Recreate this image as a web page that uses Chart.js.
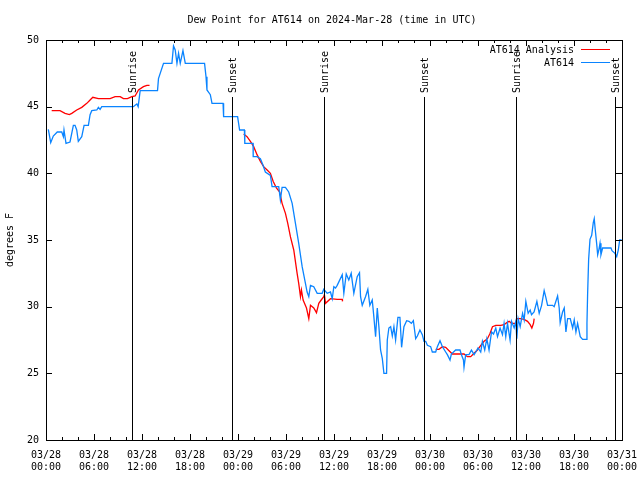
<!DOCTYPE html>
<html>
<head>
<meta charset="utf-8">
<script src="https://cdn.jsdelivr.net/npm/chart.js@4.4.1/dist/chart.umd.min.js"></script>
<style>
  html, body { margin: 0; padding: 0; background: #fff; }
  #wrap { width: 640px; height: 480px; }
</style>
</head>
<body>
<div id="wrap"><canvas id="dewpoint-chart" width="640" height="480"></canvas></div>
<script>
// Hours since 03/28 00:00 UTC; null values break the line.
const analysisHours = [0.71, 1.75, 2.38, 2.92, 3.22, 3.84, 4.47, 5.1, 5.51, 5.85, 6.55, 8.01, 8.64, 9.27, 9.68, 10.18, 10.73, 11.14, 11.56, 12.18, 12.61, 12.94,
    13.5,
    24.71, 25.13, 25.55, 25.96, 26.38, 26.8, 27.21, 27.64, 28.05, 28.39, 28.8, 29.21, 29.51, 29.93, 30.22, 30.55, 30.97, 31.39, 31.59, 31.81, 31.93, 32.14, 32.56, 32.85, 33.06, 33.47, 33.81, 34.1, 34.4, 34.72, 34.8, 34.94, 35.56, 36.4, 37.03, 37.06,
    40.0,
    48.71, 49.12, 49.55, 49.96, 50.38, 50.8, 52.25, 52.67, 53.09, 53.51, 53.93, 54.35, 54.76, 55.18, 55.51, 55.81, 56.22, 56.85, 57.26, 57.6, 57.89, 58.19, 58.73, 58.85, 59.27, 59.77, 60.19, 60.52, 60.73, 60.94, 61.02];
const analysisValues = [44.7, 44.7, 44.5, 44.4, 44.5, 44.75, 44.95, 45.25, 45.5, 45.7, 45.6, 45.6, 45.75, 45.75, 45.6, 45.6, 45.75, 45.8, 46.25, 46.5, 46.6, 46.6,
    null,
    42.95, 42.75, 42.4, 42.0, 41.4, 40.9, 40.5, 40.25, 40.0, 39.4, 38.9, 38.6, 37.75, 37.0, 36.25, 35.25, 34.25, 32.5, 31.75, 30.75, 31.25, 30.5, 29.9, 29.1, 30.1, 29.9, 29.55, 30.25, 30.5, 30.75, 30.9, 30.25, 30.6, 30.55, 30.55, 30.4,
    null,
    26.8, 26.8, 27.0, 26.95, 26.7, 26.45, 26.45, 26.25, 26.25, 26.5, 26.75, 27.1, 27.4, 27.6, 28.0, 28.5, 28.6, 28.6, 28.65, 28.8, 28.9, 28.75, 28.75, 29.1, 29.1, 29.05, 28.9, 28.65, 28.4, 28.75, 29.1];

const stationHours = [0.29, 0.59, 0.91, 1.41, 1.97, 2.17, 2.25, 2.5, 3.0, 3.42, 3.63, 3.84, 4.04, 4.47, 4.76, 5.3, 5.51, 5.72, 6.35, 6.55, 6.76, 6.97,
    10.93, 11.14, 11.36, 11.52, 11.77, 13.94, 14.06, 14.69, 15.74, 15.94, 16.15, 16.37, 16.57, 16.78, 17.12, 17.41, 19.82, 20.0, 20.12, 20.54, 20.75,
    22.13, 22.2, 23.95, 24.2, 24.8, 24.85, 25.88, 25.9, 26.38, 26.8, 27.13, 27.42, 28.05, 28.26, 29.09, 29.3, 29.51, 29.93, 30.34, 30.77, 31.18, 31.59,
    32.02, 32.43, 32.64, 32.85, 33.06, 33.47, 33.9, 34.52, 34.72, 35.15, 35.56, 35.78, 35.98, 36.19, 36.4, 37.03, 37.23, 37.53, 37.85, 38.15, 38.48,
    38.9, 39.19, 39.32, 39.53, 39.94, 40.23, 40.48, 40.78, 40.98, 41.2, 41.41, 41.61, 41.82, 42.04, 42.24, 42.57, 42.66, 42.86, 43.08, 43.29, 43.49,
    43.7, 43.99, 44.24, 44.45, 44.74, 45.08, 45.37, 45.67, 45.92, 46.21, 46.42, 46.74, 47.04, 47.25, 47.46, 47.67, 48.08, 48.29, 48.71, 48.92, 49.25,
    49.55, 49.96, 50.17, 50.5, 50.67, 51.21, 51.75, 51.93, 52.18, 52.25, 52.46, 52.88, 53.18, 53.51, 53.72, 54.0, 54.34, 54.55, 54.84, 55.1, 55.38,
    55.69, 55.94, 56.22, 56.44, 56.76, 57.06, 57.26, 57.47, 57.69, 58.01, 58.19, 58.52, 58.73, 58.85, 59.02, 59.27, 59.57, 59.77, 59.98, 60.27,
    60.52, 60.69, 61.01, 61.36, 61.65, 61.95, 62.27, 62.48, 62.7, 63.32, 63.52, 63.95, 64.15, 64.27, 64.57, 64.78, 64.99, 65.2, 65.53, 65.83,
    66.03, 66.24, 66.45, 66.78, 67.08, 67.58, 67.62, 67.7, 67.83, 68.0, 68.21, 68.41, 68.53, 68.66, 68.83, 68.96, 69.12, 69.25, 69.37, 69.58,
    70.62, 70.75, 71.12, 71.34, 71.54, 71.71, 71.96];
const stationValues = [43.3, 42.3, 42.8, 43.1, 43.1, 42.75, 43.25, 42.25, 42.35, 43.6, 43.6, 43.25, 42.4, 42.75, 43.6, 43.6, 44.4, 44.7, 44.75, 44.95, 44.8, 45.0,
    45.0, 45.1, 45.2, 45.0, 46.2, 46.2, 47.1, 48.25, 48.25, 49.55, 49.25, 48.25, 49.0, 48.25, 49.2, 48.25, 48.25, 47.25, 46.25, 45.9, 45.25,
    45.25, 44.25, 44.25, 43.25, 43.25, 42.25, 42.25, 41.25, 41.25, 41.1, 40.6, 40.1, 39.85, 39.0, 39.0, 38.0, 38.95, 38.95, 38.6, 37.75, 36.25, 34.75,
    33.0, 31.75, 31.1, 30.75, 31.6, 31.5, 31.0, 31.0, 31.3, 31.0, 31.1, 30.6, 31.5, 31.4, 31.6, 32.4, 31.0, 32.45, 32.0, 32.5, 31.0,
    32.25, 32.55, 30.75, 30.1, 30.75, 31.3, 30.1, 30.5, 29.25, 27.75, 29.9, 28.5, 26.75, 26.1, 25.0, 25.0, 27.5, 28.4, 28.5, 27.8, 28.5,
    27.5, 29.2, 29.2, 26.95, 28.5, 28.95, 28.9, 28.75, 28.95, 27.6, 27.8, 28.25, 27.9, 27.4, 27.4, 27.1, 27.0, 26.6, 26.6, 27.0, 27.45,
    27.0, 26.6, 26.4, 26.0, 26.45, 26.75, 26.75, 26.4, 26.0, 25.45, 26.4, 26.4, 26.75, 26.4, 26.6, 26.9, 26.6, 27.4, 26.75, 27.6, 26.75,
    28.1, 27.95, 28.4, 27.75, 28.4, 27.9, 28.75, 27.75, 28.75, 27.5, 28.9, 28.4, 28.9, 27.6, 29.1, 28.5, 29.5, 29.0, 30.4, 29.5,
    29.75, 29.4, 29.6, 30.4, 29.5, 30.1, 31.2, 30.7, 30.1, 30.1, 30.0, 30.8, 29.9, 28.8, 29.6, 29.9, 28.1, 29.1, 29.1, 28.4,
    29.0, 28.1, 28.75, 27.75, 27.55, 27.55, 28.75, 30.9, 33.55, 35.05, 35.35, 36.3, 36.6, 35.75, 34.75, 33.9, 34.3, 34.75, 33.9, 34.4,
    34.4, 34.2, 34.0, 33.75, 34.25, 35.0, 35.0];

// Sunrise / sunset markers (hours since 03/28 00:00)
const sunHours = [10.77, 23.29, 34.69, 47.21, 58.73, 71.12];
const sunLabels = ["Sunrise", "Sunset", "Sunrise", "Sunset", "Sunrise", "Sunset"];

// x tick labels every 6 hours
const tickDays = ["03/28", "03/28", "03/28", "03/28", "03/29", "03/29", "03/29", "03/29", "03/30", "03/30", "03/30", "03/30", "03/31"];
const tickTimes = ["00:00", "06:00", "12:00", "18:00", "00:00", "06:00", "12:00", "18:00", "00:00", "06:00", "12:00", "18:00", "00:00"];

const TITLE = "Dew Point for AT614 on 2024-Mar-28 (time in UTC)";
const FONT = "'DejaVu Sans Mono', 'Liberation Mono', monospace";

function toPoints(xs, ys) {
    return xs.map((x, i) => ({ x: x, y: ys[i] }));
}

// gnuplot-like frame: border, inward ticks on all sides, title, legend, sun lines
const framePlugin = {
    id: "frame",
    afterDatasetsDraw(chart) {
        const ctx = chart.ctx;
        const a = chart.chartArea;
        const xs = chart.scales.x;
        const ys = chart.scales.y;
        ctx.save();
        ctx.strokeStyle = "#000";
        ctx.lineWidth = 1;

        // sunrise / sunset lines with rotated labels
        ctx.font = "10px " + FONT;
        ctx.fillStyle = "#000";
        sunHours.forEach((h, i) => {
            const px = Math.round(xs.getPixelForValue(h)) + 0.5;
            ctx.beginPath();
            ctx.moveTo(px, 97);
            ctx.lineTo(px, a.bottom);
            ctx.stroke();
            ctx.save();
            ctx.translate(px + 1, 93);
            ctx.rotate(-Math.PI / 2);
            ctx.textAlign = "left";
            ctx.textBaseline = "middle";
            ctx.fillText(sunLabels[i], 0, 0);
            ctx.restore();
        });

        // border
        ctx.strokeRect(Math.round(a.left) + 0.5, Math.round(a.top) + 0.5,
            Math.round(a.right - a.left), Math.round(a.bottom - a.top));

        // x ticks (major every 6 h, minor every 2 h), bottom and top
        ctx.beginPath();
        xs.ticks.forEach(t => {
            const px = Math.round(xs.getPixelForValue(t.value)) + 0.5;
            const len = t.value % 6 === 0 ? 6 : 3;
            ctx.moveTo(px, a.bottom);
            ctx.lineTo(px, a.bottom - len);
            ctx.moveTo(px, a.top);
            ctx.lineTo(px, a.top + len);
        });
        // y ticks, left and right
        ys.ticks.forEach(t => {
            const py = Math.round(ys.getPixelForValue(t.value)) + 0.5;
            ctx.moveTo(a.left, py);
            ctx.lineTo(a.left + 6, py);
            ctx.moveTo(a.right, py);
            ctx.lineTo(a.right - 6, py);
        });
        ctx.stroke();

        // title
        ctx.font = "10px " + FONT;
        ctx.textAlign = "center";
        ctx.textBaseline = "middle";
        ctx.fillText(TITLE, 332, 20);

        // legend: text right-aligned, sample line to the right
        const order = [1, 0];
        order.forEach((di, row) => {
            const ds = chart.data.datasets[di];
            const y = 50 + row * 13;
            ctx.textAlign = "right";
            ctx.fillStyle = "#000";
            ctx.fillText(ds.label, 574, y);
            ctx.strokeStyle = ds.borderColor;
            ctx.beginPath();
            ctx.moveTo(581, y - 0.5);
            ctx.lineTo(610, y - 0.5);
            ctx.stroke();
        });
        ctx.restore();
    }
};

function renderDewPoint() {
    const canvas = document.getElementById("dewpoint-chart");
    new Chart(canvas, {
        type: "line",
        data: {
            datasets: [
                {
                    label: "AT614",
                    data: toPoints(stationHours, stationValues),
                    borderColor: "#0a84ff",
                    borderWidth: 1.3,
                    pointRadius: 0,
                    tension: 0,
                    order: 0,
                },
                {
                    label: "AT614 Analysis",
                    data: toPoints(analysisHours, analysisValues),
                    borderColor: "#ff0000",
                    borderWidth: 1.3,
                    pointRadius: 0,
                    tension: 0,
                    spanGaps: false,
                    order: 1,
                },
            ],
        },
        options: {
            responsive: false,
            animation: false,
            layout: { padding: { top: 40, right: 18, bottom: 0, left: 0 } },
            plugins: {
                legend: { display: false },
                title: { display: false },
                tooltip: { enabled: false },
            },
            scales: {
                x: {
                    type: "linear",
                    min: 0,
                    max: 72,
                    grid: { display: false, drawTicks: false },
                    border: { display: false },
                    afterFit: s => { s.height = 40; s.paddingLeft = 0; s.paddingRight = 0; },
                    ticks: {
                        stepSize: 2,
                        autoSkip: false,
                        maxRotation: 0,
                        padding: 9,
                        color: "#000",
                        font: { family: FONT, size: 10 },
                        callback: v => {
                            if (v % 6 !== 0) return "";
                            const i = v / 6;
                            return [tickDays[i], tickTimes[i]];
                        },
                    },
                },
                y: {
                    min: 20,
                    max: 50,
                    grid: { display: false, drawTicks: false },
                    border: { display: false },
                    afterFit: s => { s.width = 46; s.paddingTop = 0; s.paddingBottom = 0; },
                    title: {
                        display: true,
                        text: "degrees F",
                        color: "#000",
                        font: { family: FONT, size: 10 },
                        padding: { top: 4, bottom: 0 },
                    },
                    ticks: {
                        stepSize: 5,
                        padding: 7,
                        color: "#000",
                        font: { family: FONT, size: 10 },
                    },
                },
            },
        },
        plugins: [framePlugin],
    });
}

renderDewPoint();
</script>
</body>
</html>
